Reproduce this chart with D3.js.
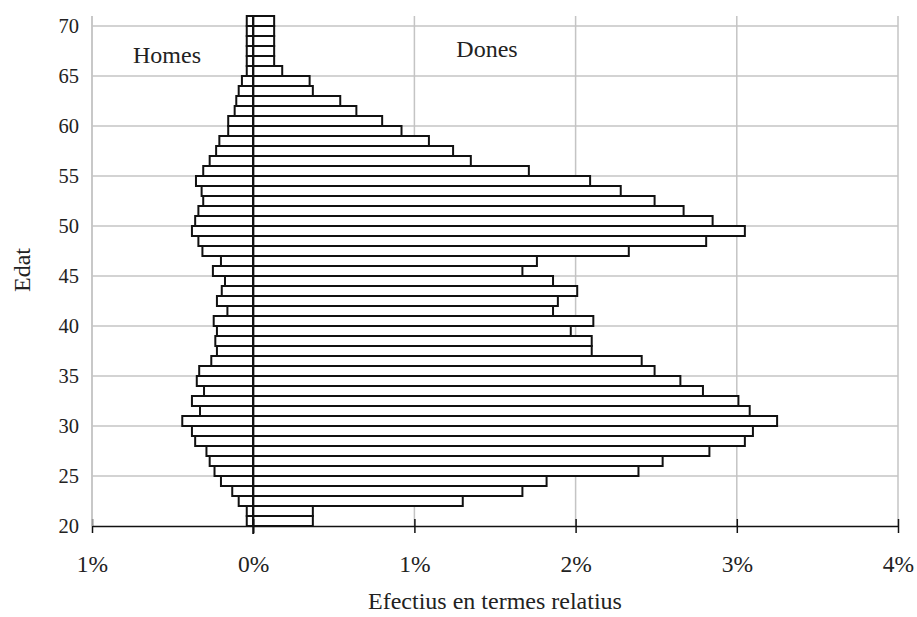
<!DOCTYPE html>
<html>
<head>
<meta charset="utf-8">
<script src="https://cdn.jsdelivr.net/npm/d3@7"></script>
<style>
  body { margin: 0; background: #fff; }
  svg text { font-family: "Liberation Serif", Tinos, "Times New Roman", Times, serif; fill: #222; }
</style>
</head>
<body>
<svg id="chart" width="917" height="617"></svg>
<script>
// age groups, one bar per year of age
const ages = d3.range(20, 71);
// men (left side, negative) in % of total
const homes = [
  -0.04, -0.04, -0.09, -0.13, -0.20, -0.24, -0.27, -0.29, -0.36, -0.38,
  -0.44, -0.33, -0.38, -0.305, -0.35, -0.335, -0.26, -0.225, -0.235, -0.225,
  -0.245, -0.16, -0.225, -0.195, -0.175, -0.25, -0.20, -0.315, -0.34, -0.38,
  -0.36, -0.34, -0.31, -0.32, -0.355, -0.31, -0.27, -0.23, -0.21, -0.155,
  -0.155, -0.115, -0.105, -0.09, -0.07, -0.04, -0.04, -0.04, -0.04, -0.04,
  -0.04
];
// women (right side) in % of total
const dones = [
  0.37, 0.37, 1.30, 1.67, 1.82, 2.39, 2.54, 2.83, 3.05, 3.10,
  3.25, 3.08, 3.01, 2.79, 2.65, 2.49, 2.41, 2.10, 2.10, 1.97,
  2.11, 1.86, 1.89, 2.01, 1.86, 1.67, 1.76, 2.33, 2.81, 3.05,
  2.85, 2.67, 2.49, 2.28, 2.09, 1.71, 1.35, 1.24, 1.09, 0.92,
  0.80, 0.64, 0.54, 0.37, 0.35, 0.18, 0.13, 0.13, 0.13, 0.13,
  0.13
];
const xTicks = [-1, 0, 1, 2, 3, 4];
const yTicks = [20, 25, 30, 35, 40, 45, 50, 55, 60, 65, 70];

const serif = '"Liberation Serif", Tinos, "Times New Roman", Times, serif';
const svg = d3.select('#chart');
const plot = { left: 92, right: 898, top: 16, bottom: 526 };

const x = d3.scaleLinear().domain([-1, 4]).range([plot.left, plot.right]);
const y = d3.scaleLinear().domain([20, 71]).range([plot.bottom, plot.top]);

// grid
svg.append('g').selectAll('line')
  .data(yTicks.filter(d => d > 20))
  .join('line')
  .attr('x1', plot.left).attr('x2', plot.right)
  .attr('y1', d => y(d)).attr('y2', d => y(d))
  .attr('stroke', '#c4c4c4').attr('stroke-width', 1.5);

svg.append('g').selectAll('line')
  .data(xTicks.filter(d => d !== 0))
  .join('line')
  .attr('x1', d => x(d)).attr('x2', d => x(d))
  .attr('y1', plot.top).attr('y2', plot.bottom)
  .attr('stroke', '#c4c4c4').attr('stroke-width', 1.5);

// bars
const rows = ages.map((a, i) => ({ age: a, m: homes[i], f: dones[i] }));
const bars = svg.append('g');
bars.selectAll('rect.m')
  .data(rows)
  .join('rect')
  .attr('class', 'm')
  .attr('x', d => x(d.m))
  .attr('width', d => x(0) - x(d.m))
  .attr('y', d => y(d.age + 1))
  .attr('height', d => y(d.age) - y(d.age + 1))
  .attr('fill', '#fff').attr('stroke', '#111').attr('stroke-width', 2);
bars.selectAll('rect.f')
  .data(rows)
  .join('rect')
  .attr('class', 'f')
  .attr('x', x(0))
  .attr('width', d => x(d.f) - x(0))
  .attr('y', d => y(d.age + 1))
  .attr('height', d => y(d.age) - y(d.age + 1))
  .attr('fill', '#fff').attr('stroke', '#111').attr('stroke-width', 2);

// x axis
const xAxis = svg.append('g')
  .attr('transform', `translate(0,${plot.bottom})`)
  .call(d3.axisBottom(x).tickValues(xTicks).tickSize(0).tickPadding(29)
    .tickFormat(d => Math.abs(d) + '%'));
xAxis.attr('font-family', serif);
xAxis.select('.domain').attr('stroke', '#111').attr('stroke-width', 1.5);
xAxis.selectAll('.tick line').remove();
xAxis.selectAll('.tick').append('line')
  .attr('y1', -7).attr('y2', 7).attr('stroke', '#111').attr('stroke-width', 1.5);
xAxis.selectAll('text').attr('font-size', 23.5).attr('fill', '#222');

// zero line
svg.append('line')
  .attr('x1', x(0)).attr('x2', x(0))
  .attr('y1', plot.top).attr('y2', plot.bottom + 8)
  .attr('stroke', '#111').attr('stroke-width', 2);

// y axis
svg.append('line')
  .attr('x1', plot.left).attr('x2', plot.left).attr('y1', plot.top).attr('y2', plot.bottom)
  .attr('stroke', '#c4c4c4').attr('stroke-width', 1.5);
const yAxis = svg.append('g')
  .attr('transform', `translate(${plot.left},0)`)
  .call(d3.axisLeft(y).tickValues(yTicks).tickSize(0).tickPadding(13));
yAxis.attr('font-family', serif);
yAxis.select('.domain').remove();
yAxis.selectAll('text').attr('font-size', 20.5).attr('fill', '#222');

// labels
const labels = svg.append('g').attr('font-family', serif).attr('font-size', 24).attr('fill', '#222');
labels.append('text').attr('x', 167).attr('y', 63).attr('text-anchor', 'middle').text('Homes');
labels.append('text').attr('x', 487).attr('y', 57).attr('text-anchor', 'middle').text('Dones');
labels.append('text').attr('x', 495).attr('y', 609).attr('text-anchor', 'middle')
  .text('Efectius en termes relatius');
labels.append('text').attr('transform', 'translate(30,270) rotate(-90)')
  .attr('text-anchor', 'middle').text('Edat');
</script>
</body>
</html>
